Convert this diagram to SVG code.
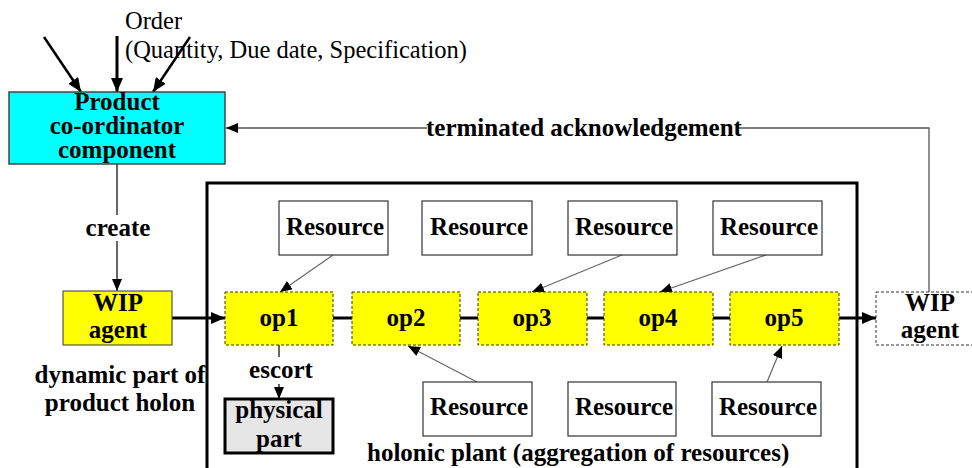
<svg xmlns="http://www.w3.org/2000/svg" width="972" height="468" viewBox="0 0 972 468">
<style>
text{font-family:'Liberation Serif','Times New Roman',serif;font-size:24.5px;fill:#000}
.b{font-weight:bold;font-size:25px}
.c{text-anchor:middle}
.op{fill:#ffff00;stroke:#333;stroke-width:1;stroke-dasharray:3,2}
.res{fill:#fff;stroke:#333;stroke-width:1.2}
.thin{stroke:#666;stroke-width:1.2;fill:none}
.thick{stroke:#000;stroke-width:3;fill:none}
</style>
<defs>
<marker id="ah" markerUnits="userSpaceOnUse" markerWidth="14" markerHeight="12" refX="14" refY="6" orient="auto">
<path d="M0,0 L14,6 L0,12 z" fill="#000"/>
</marker>
<marker id="ahs" markerUnits="userSpaceOnUse" markerWidth="12" markerHeight="10" refX="12" refY="5" orient="auto">
<path d="M0,0 L12,5 L0,10 z" fill="#000"/>
</marker>
</defs>
<rect width="972" height="468" fill="#fff"/>

<g id="plant">
<rect x="207" y="183" width="650" height="300" fill="none" stroke="#000" stroke-width="3"/>
<text x="367" y="461" class="b">holonic plant (aggregation of resources)</text>
</g>

<g id="order">
<text x="125" y="29">Order</text>
<text x="125" y="58">(Quantity, Due date, Specification)</text>
</g>

<g id="connectors">
<line x1="44" y1="37" x2="81" y2="92" stroke="#000" stroke-width="2.5" marker-end="url(#ah)"/>
<line x1="117" y1="36" x2="117" y2="92" stroke="#000" stroke-width="3" marker-end="url(#ah)"/>
<line x1="190" y1="37" x2="153" y2="92" stroke="#000" stroke-width="2.5" marker-end="url(#ah)"/>
<polyline points="929,292 929,128 226,128" fill="none" stroke="#555" stroke-width="1.3" marker-end="url(#ahs)"/>
<line x1="117" y1="164" x2="117" y2="291" stroke="#000" stroke-width="1.2" marker-end="url(#ahs)"/>
<line x1="172" y1="318" x2="225" y2="318" class="thick" marker-end="url(#ah)"/>
<line x1="333" y1="318" x2="352" y2="318" class="thick"/>
<line x1="460" y1="318" x2="478" y2="318" class="thick"/>
<line x1="587" y1="318" x2="604" y2="318" class="thick"/>
<line x1="713" y1="318" x2="730" y2="318" class="thick"/>
<line x1="839" y1="318" x2="876" y2="318" class="thick" marker-end="url(#ah)"/>
<line x1="333" y1="255" x2="280" y2="292" class="thin" marker-end="url(#ahs)"/>
<line x1="622" y1="255" x2="532" y2="292" class="thin" marker-end="url(#ahs)"/>
<line x1="766" y1="255" x2="660" y2="292" class="thin" marker-end="url(#ahs)"/>
<line x1="477" y1="382" x2="408" y2="346" class="thin" marker-end="url(#ahs)"/>
<line x1="767" y1="382" x2="782" y2="346" class="thin" marker-end="url(#ahs)"/>
<line x1="279" y1="345" x2="279" y2="357" stroke="#000" stroke-width="1.2"/>
<line x1="279" y1="384" x2="279" y2="399" stroke="#000" stroke-width="1.2" marker-end="url(#ahs)"/>
<rect x="427" y="116" width="310" height="24" fill="#fff"/>
<text x="584" y="136" class="b c">terminated acknowledgement</text>
<rect x="82" y="215" width="72" height="26" fill="#fff"/>
<text x="118" y="236" class="b c">create</text>
<text x="281" y="378" class="b c">escort</text>
</g>

<g id="product">
<rect x="9" y="92" width="216" height="72" fill="#00ffff" stroke="#444" stroke-width="1.5"/>
<text x="117" y="110" class="b c">Product</text>
<text x="117" y="134" class="b c">co-ordinator</text>
<text x="117" y="158" class="b c">component</text>
</g>

<g id="wip1">
<rect x="63" y="291" width="109" height="54" fill="#ffff00" stroke="#555" stroke-width="1.2"/>
<text x="118" y="311" class="b c">WIP</text>
<text x="118" y="338" class="b c">agent</text>
</g>
<text x="120" y="383" class="b c">dynamic part of</text>
<text x="120" y="411" class="b c">product holon</text>

<g id="physical">
<rect x="225" y="399" width="108" height="54" fill="#e6e6e6" stroke="#000" stroke-width="3"/>
<text x="279" y="418" class="b c">physical</text>
<text x="279" y="447" class="b c">part</text>
</g>

<g id="op1"><rect x="225" y="292" width="108" height="53" class="op"/><text x="279" y="326" class="b c">op1</text></g>
<g id="op2"><rect x="352" y="292" width="108" height="53" class="op"/><text x="406" y="326" class="b c">op2</text></g>
<g id="op3"><rect x="478" y="292" width="109" height="53" class="op"/><text x="532" y="326" class="b c">op3</text></g>
<g id="op4"><rect x="604" y="292" width="109" height="53" class="op"/><text x="658" y="326" class="b c">op4</text></g>
<g id="op5"><rect x="730" y="292" width="109" height="53" class="op"/><text x="784" y="326" class="b c">op5</text></g>

<g id="wip2">
<rect x="876" y="292" width="100" height="53" fill="#fff" stroke="#333" stroke-width="1" stroke-dasharray="3,2"/>
<text x="930" y="311" class="b c">WIP</text>
<text x="930" y="338" class="b c">agent</text>
</g>

<g id="res1"><rect x="279" y="201" width="109" height="54" class="res"/><text x="335" y="235" class="b c">Resource</text></g>
<g id="res2"><rect x="422" y="201" width="110" height="54" class="res"/><text x="479" y="235" class="b c">Resource</text></g>
<g id="res3"><rect x="568" y="201" width="109" height="54" class="res"/><text x="624" y="235" class="b c">Resource</text></g>
<g id="res4"><rect x="713" y="201" width="109" height="54" class="res"/><text x="769" y="235" class="b c">Resource</text></g>
<g id="res5"><rect x="423" y="382" width="109" height="54" class="res"/><text x="479" y="415" class="b c">Resource</text></g>
<g id="res6"><rect x="568" y="382" width="108" height="54" class="res"/><text x="624" y="415" class="b c">Resource</text></g>
<g id="res7"><rect x="712" y="382" width="109" height="54" class="res"/><text x="768" y="415" class="b c">Resource</text></g>
</svg>
